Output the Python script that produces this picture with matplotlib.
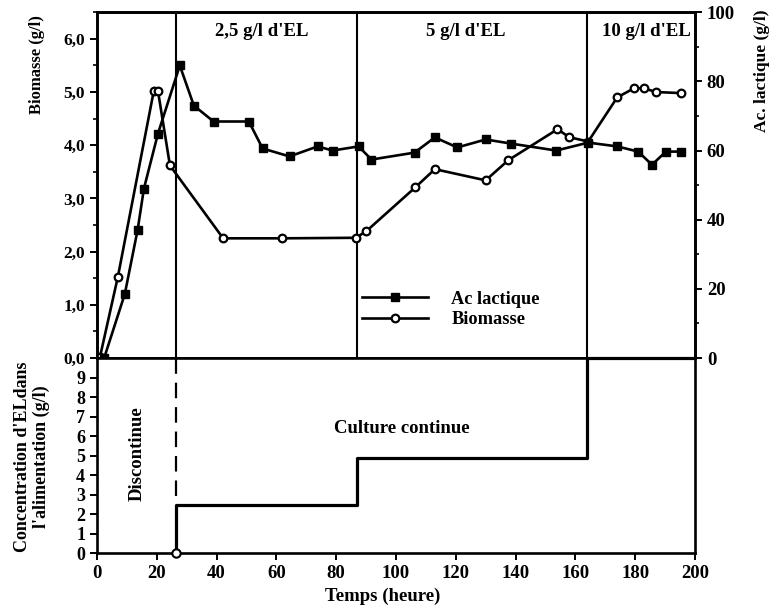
import matplotlib
matplotlib.use('Agg')
import matplotlib.pyplot as plt
from matplotlib.lines import Line2D
from matplotlib.ticker import FuncFormatter, MultipleLocator

plt.rcParams['font.family'] = 'Liberation Serif'
plt.rcParams['font.weight'] = 'bold'
plt.rcParams['font.size'] = 13

# biomasse (g/l), cercles ouverts, axe gauche
bio_t = [1, 7.0, 19.0, 20.4, 24.4, 42.2, 62, 86.5, 90, 106.5, 113, 130, 137.6,
         154, 158, 164.3, 174, 179.6, 183, 187, 195.3]
bio = [0.02, 1.53, 5.02, 5.02, 3.62, 2.25, 2.25, 2.26, 2.38, 3.21, 3.55, 3.34, 3.72,
       4.30, 4.15, 4.07, 4.90, 5.07, 5.07, 5.00, 4.98]

# acide lactique (g/l), carres pleins, axe droit
lac_t = [2.4, 9.3, 13.6, 15.7, 20.4, 27.7, 32.4, 39, 50.8, 55.4, 64.4, 73.8, 78.8,
         87.5, 91.8, 106.2, 113, 120.5, 130, 138.6, 153.6, 164.3, 174, 181, 185.6,
         190.3, 195.3]
lac = [0, 18.5, 37.1, 49, 64.9, 84.6, 73.0, 68.4, 68.4, 60.6, 58.3, 61.2, 60.0,
       61.2, 57.4, 59.4, 63.8, 60.9, 63.2, 62.0, 60.0, 62.3, 61.2, 59.7, 55.9,
       59.7, 59.7]

# changements de regime (heures) et concentration d'EL dans l'alimentation
phase_t = [26.4, 87, 164]
feed_t = [26.4, 26.4, 87, 87, 164, 164, 200]
feed = [0, 2.45, 2.45, 4.85, 4.85, 10, 10]
phase_labels = ["2,5 g/l d'EL", "5 g/l d'EL", "10 g/l d'EL"]
phase_label_t = [55, 123.5, 183.7]

comma = FuncFormatter(lambda v, p: ('%.1f' % v).replace('.', ','))

fig = plt.figure(figsize=(7.74, 6.12), dpi=100)
ax = fig.add_axes([0.1253, 0.415, 0.7726, 0.565])
ax2 = ax.twinx()
axb = fig.add_axes([0.1253, 0.0964, 0.7726, 0.3186])

# panneau du haut
ax.plot(bio_t, bio, color='black', lw=1.9, marker='o', ms=5.5, mfc='white',
        mec='black', mew=1.6, zorder=3)
ax2.plot(lac_t, lac, color='black', lw=1.9, marker='s', ms=5.5, zorder=3)
for t in phase_t:
    ax.axvline(t, color='black', lw=1.5)
for lab, t in zip(phase_labels, phase_label_t):
    ax.text(t, 6.13, lab, ha='center', va='center', fontsize=13.5)

ax.set_xlim(0, 200)
ax.set_ylim(0, 6.5)
ax2.set_ylim(0, 100)
ax.yaxis.set_major_locator(MultipleLocator(1))
ax.yaxis.set_minor_locator(MultipleLocator(0.5))
ax.yaxis.set_major_formatter(comma)
ax2.yaxis.set_major_locator(MultipleLocator(20))
ax2.yaxis.set_minor_locator(MultipleLocator(10))
ax.set_xticks([])
ax.tick_params(axis='y', direction='out', length=5, width=1.4, labelsize=12.5)
ax.tick_params(axis='y', which='minor', length=3, width=1.2)
ax2.tick_params(axis='y', direction='out', length=5, width=1.4, labelsize=13.5)
ax2.tick_params(axis='y', which='minor', length=3, width=1.2)
for a in (ax, ax2, axb):
    for s in a.spines.values():
        s.set_linewidth(1.9)

handles = [Line2D([], [], color='black', lw=1.9, marker='s', ms=5.5),
           Line2D([], [], color='black', lw=1.9, marker='o', ms=5.5, mfc='white',
                  mec='black', mew=1.6)]
ax.legend(handles, ['Ac lactique', 'Biomasse'], loc='center left',
          bbox_to_anchor=(0.415, 0.14), frameon=False, handlelength=3.6,
          handletextpad=1.3, labelspacing=0.2, fontsize=13.2)

# panneau du bas
axb.plot(feed_t, feed, color='black', lw=2.3, clip_on=False, zorder=3)
axb.plot([26.4, 26.4], [2.9, 10], color='black', lw=1.6, ls=(0, (7, 4)))
axb.plot([26.4], [0], marker='o', ms=6, mfc='white', mec='black', mew=1.5,
         clip_on=False, zorder=4)
axb.text(13.4, 5.1, 'Discontinue', rotation=90, ha='center', va='center', fontsize=13.5)
axb.text(101.8, 6.4, 'Culture continue', ha='center', va='center', fontsize=13.5)

axb.set_xlim(0, 200)
axb.set_ylim(0, 10)
axb.set_xticks(range(0, 201, 20))
axb.set_yticks(range(0, 10))
axb.tick_params(direction='out', length=5, width=1.4, labelsize=13)
axb.tick_params(axis='x', labelsize=13.5)

fig.text(0.048, 0.895, 'Biomasse (g/l)', rotation=90, ha='center', va='center', fontsize=12)
fig.text(0.985, 0.984, 'Ac. lactique (g/l)', rotation=90, ha='center', va='top', fontsize=12.5)
fig.text(0.041, 0.253, "Concentration d'ELdans\nl'alimentation (g/l)", rotation=90,
         ha='center', va='center', fontsize=13, linespacing=1.1)
fig.text(0.494, 0.025, 'Temps (heure)', ha='center', va='center', fontsize=13.5)

fig.savefig('out.png', dpi=100)
